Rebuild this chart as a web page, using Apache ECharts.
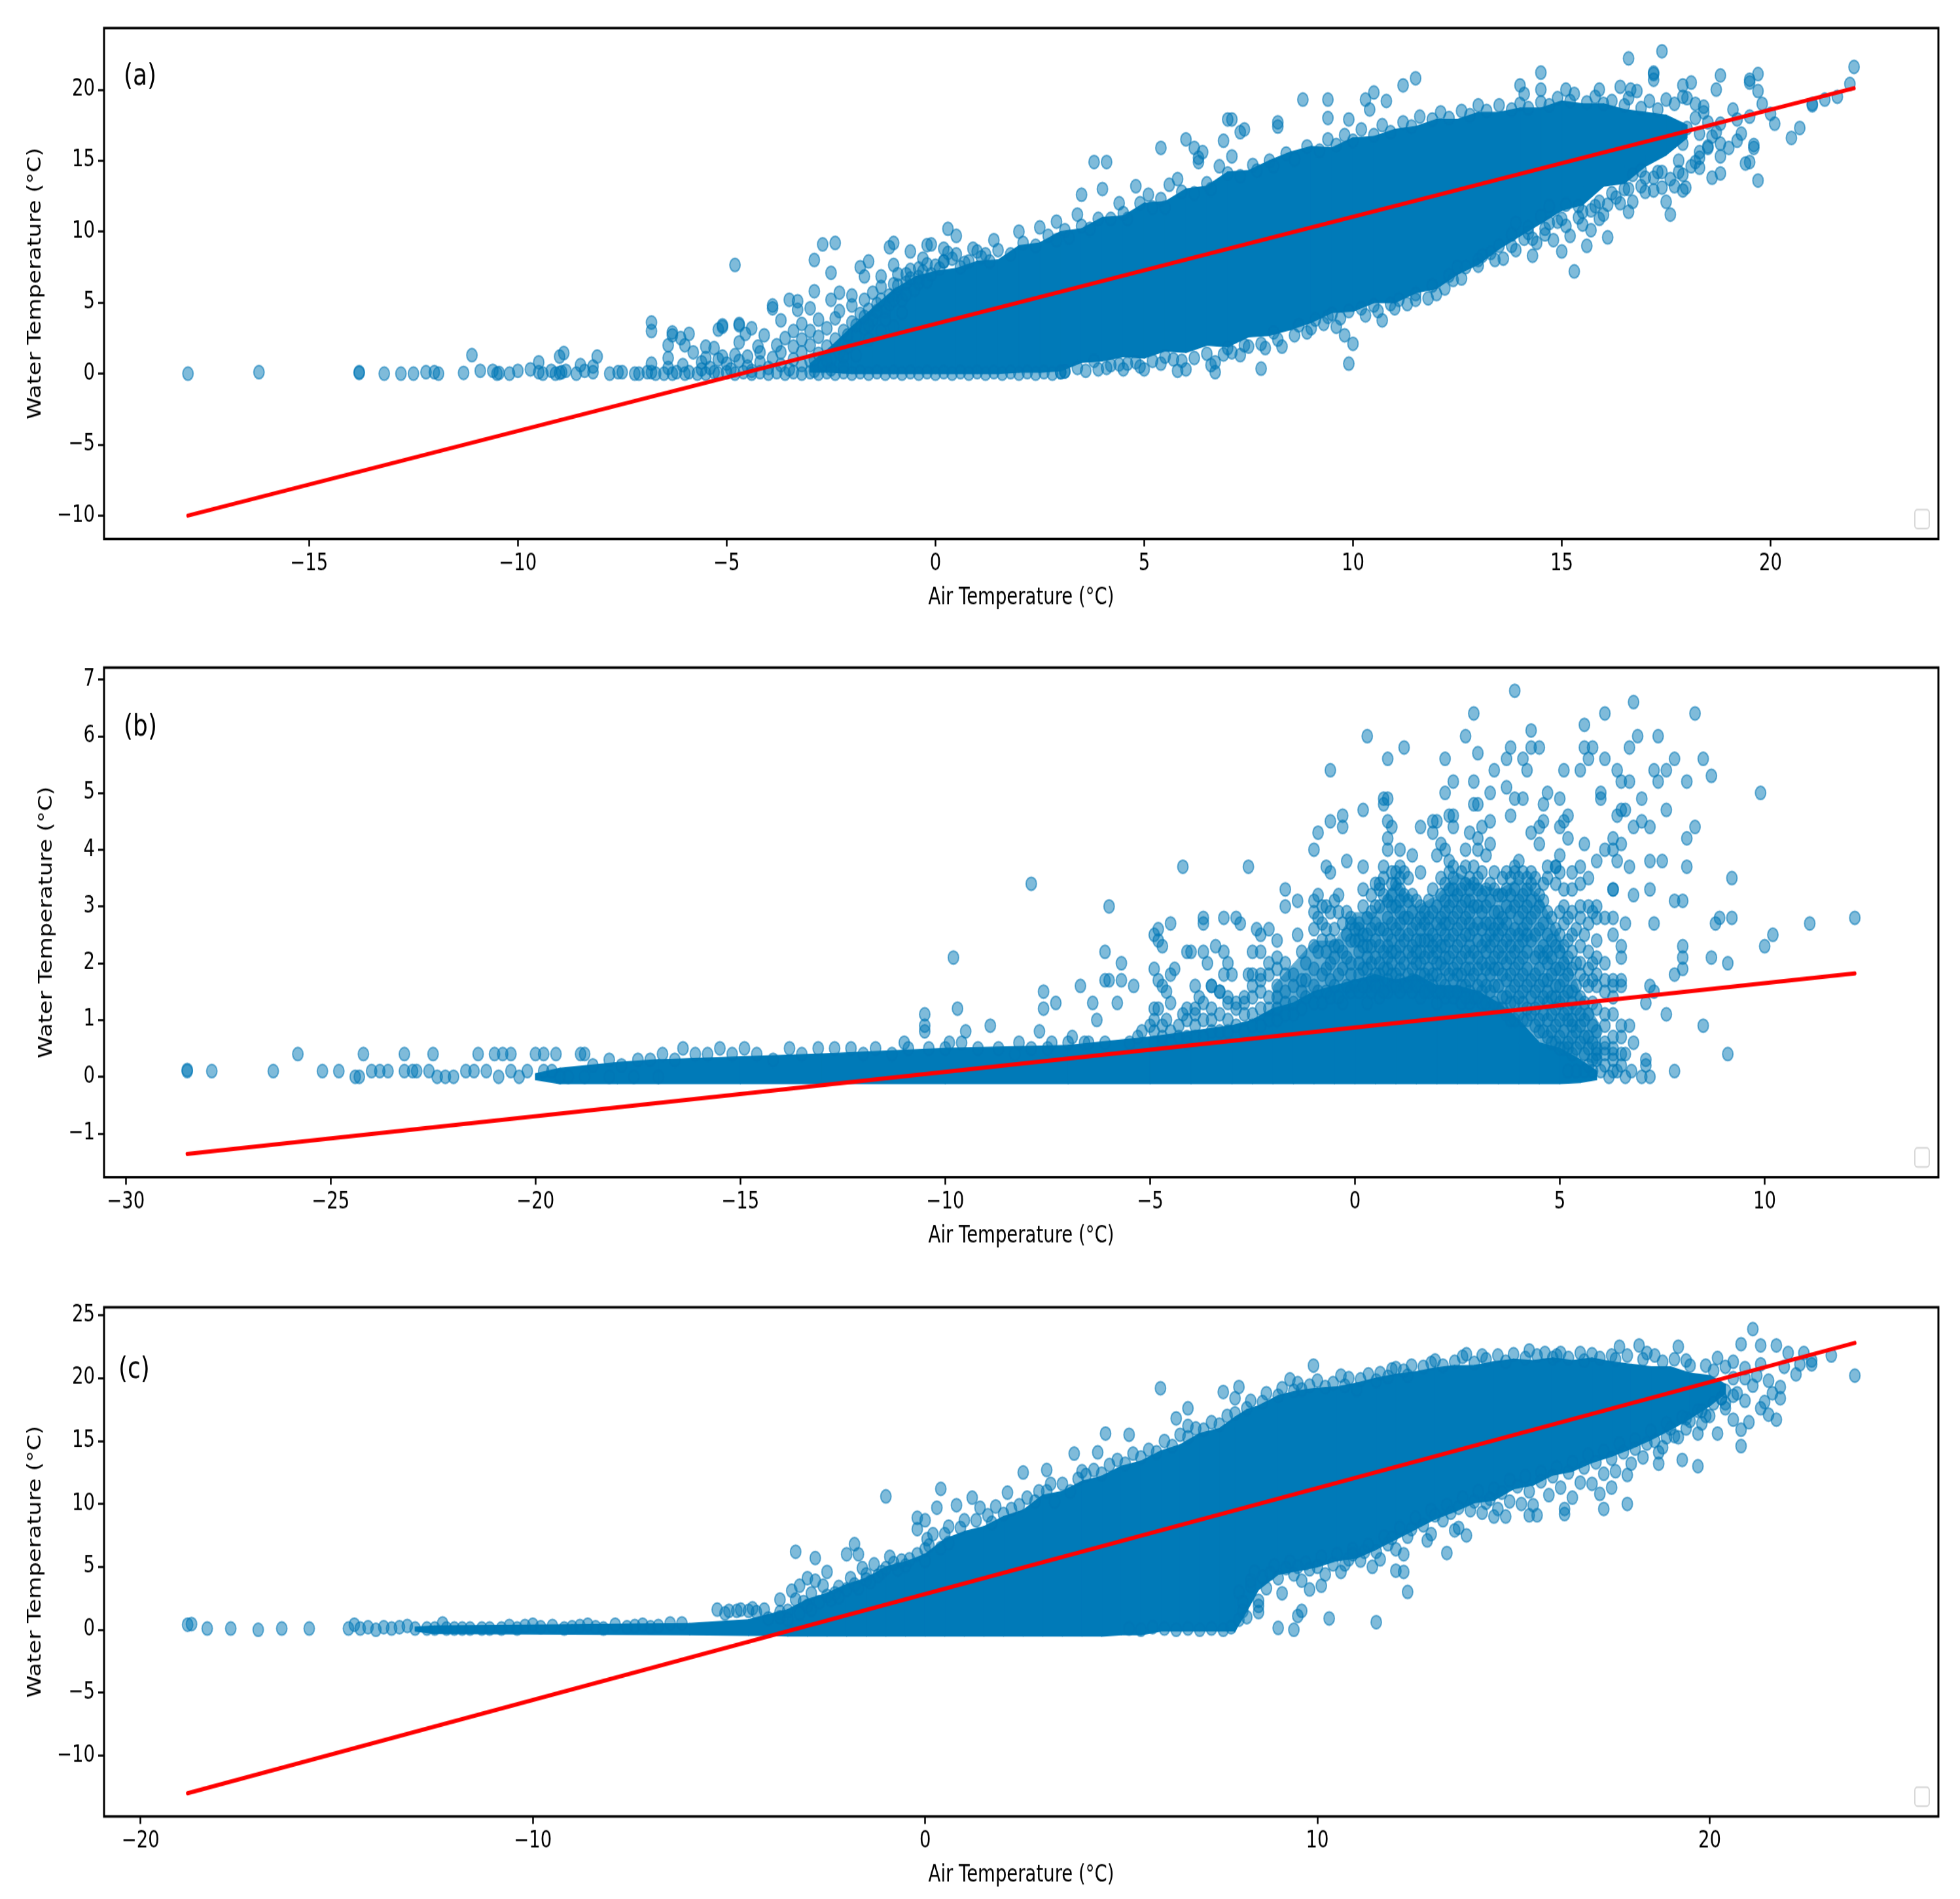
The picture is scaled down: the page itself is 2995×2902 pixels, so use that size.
<!DOCTYPE html>
<html><head><meta charset="utf-8">
<script src="https://cdn.jsdelivr.net/npm/echarts@6/dist/echarts.min.js"></script>
<style>html,body{margin:0;padding:0;background:#fff;width:2995px;height:2902px;overflow:hidden}
#c{width:2995px;height:2285px;transform:scale(1,1.27);transform-origin:0 0}</style>
</head><body><div id="c"></div>
<script>
// ---------- tick labels ----------
const xTicksA=[-15,-10,-5,0,5,10,15,20], yTicksA=[-10,-5,0,5,10,15,20];
const xTicksB=[-30,-25,-20,-15,-10,-5,0,5,10], yTicksB=[-1,0,1,2,3,4,5,6,7];
const xTicksC=[-20,-10,0,10,20], yTicksC=[-10,-5,0,5,10,15,20,25];
const xTitle='Air Temperature (°C)', yTitle='Water Temperature (°C)';
// ---------- regression lines ----------
const lineA=[[-17.9,-10],[22,20.1]], lineB=[[-28.5,-1.36],[12.2,1.82]], lineC=[[-18.8,-13],[23.7,22.8]];
// ---------- unresolved dense mass: [air, low water, high water] ----------
const massA=[[-3,.1,.7],[-2.5,.1,1.9],[-2,0,3.3],[-1.5,0,4.6],[-1,0,5.9],[-.5,0,6.8],[0,0,7.2],[.5,0,7.4],[1,0,7.9],[1.5,0,8],[2,.1,9],[2.5,.1,9.2],[3,.2,10],[3.5,.8,10.2],[4,.9,11],[4.5,1.2,11.1],[5,1.1,12],[5.5,1.6,12.1],[6,1.5,13],[6.5,2,13.2],[7,1.9,14.2],[7.5,2.6,14.3],[8,2.7,15],[8.5,3.1,15.6],[9,3.6,16],[9.5,4.3,15.9],[10,4.4,16.6],[10.5,5,16.7],[11,5,17.2],[11.5,5.7,17.4],[12,6,17.9],[12.5,7,17.9],[13,7.7,18.4],[13.5,8.8,18.4],[14,9.7,18.7],[14.5,10.6,18.7],[15,11.5,19.2],[15.5,11.9,19],[16,13.2,19],[16.5,13.4,18.6],[17,14.6,18.4],[17.5,15.4,18.2],[18,16.6,17.5]];
const massB=[[-20,-.05,.05],[-19.4,-.12,.15],[-18,-.12,.25],[-17,-.12,.3],[-15,-.12,.35],[-13,-.12,.4],[-10,-.12,.5],[-7,-.12,.55],[-5,-.12,.7],[-4,-.12,.8],[-3,-.12,.9],[-2.5,-.12,1],[-2,-.12,1.2],[-1.5,-.12,1.3],[-1,-.12,1.5],[-.5,-.12,1.6],[0,-.12,1.7],[.5,-.12,1.8],[1,-.12,1.7],[1.5,-.12,1.8],[2,-.12,1.6],[2.5,-.12,1.6],[3,-.12,1.5],[3.5,-.12,1.3],[4,-.12,1],[4.5,-.12,.6],[5,-.12,.5],[5.5,-.1,.3],[5.9,-.05,.1]];
const semiB=[[-2,1,1.6],[-1,1.4,2.4],[-.5,1.5,2.4],[0,1.6,2.9],[.5,1.7,2.9],[1,1.6,3.5],[1.5,1.7,3],[2,1.5,3.2],[2.5,1.5,3.6],[3,1.4,3.4],[3.5,1.2,3.3],[4,.9,3.5],[4.5,.6,3.2],[5,.4,2.5],[5.5,.3,1.5],[6,.2,.9]];
const massC=[[-13,-.1,.2],[-12.5,-.3,.3],[-9,-.35,.4],[-6,-.4,.5],[-4.5,-.45,.8],[-4,-.45,1.2],[-3.5,-.5,1.6],[-3,-.5,2.4],[-2.5,-.5,2.9],[-2,-.5,3.6],[-1.5,-.5,4.1],[-1,-.5,5],[-.5,-.5,5.4],[0,-.5,6],[.5,-.5,7.2],[1,-.5,7.8],[1.5,-.5,8.2],[2,-.5,9],[2.5,-.5,9.5],[3,-.5,10.7],[3.5,-.5,11],[4,-.5,11.8],[4.5,-.5,12.2],[5,-.4,13],[5.5,-.4,13.4],[6,-.1,14.2],[6.5,-.1,14.7],[7,-.1,15.6],[7.5,-.1,16],[7.9,-.1,16.9],[8.2,1.5,17.5],[8.5,3.2,17.8],[9,4.4,18.6],[9.5,4.7,19],[10,5,19.2],[10.5,5.5,19.3],[11,5.7,19.6],[11.5,6.4,20],[12,7.2,20.3],[12.5,8,20.5],[13,8.8,20.8],[13.5,9.4,21],[14,10.1,21],[14.5,10.3,21.3],[15,11.2,21.5],[15.5,11.5,21.4],[16,12.3,21.6],[16.5,12.6,21.4],[17,13.3,21.6],[17.5,13.8,21.3],[18,14.4,21.1],[18.5,15.1,20.9],[19,15.9,20.9],[19.5,16.8,20.4],[20,17.8,20.2],[20.4,18.8,19.5]];
// ---------- individually read points: panel (a) ----------
const pointsA=[[-17.9,0],[-16.2,.1],[-13.8,.05],[-13.8,.1],[-13.2,0],[-12.8,0],[-12.5,0],[-12.2,.1],[-12,.1],[-11.9,0],[-11.3,.05],[-10.9,.2],[-10.6,.2],[-10.5,0],[-10.45,.05],[-10.2,0],[-10,.2],[-9.7,.3],[-9.5,.1],[-9.5,.8],[-9.4,0],[-9.2,.2],[-9.1,0],[-9,.05],[-8.95,.1],[-8.85,.2],[-9,1.2],[-8.9,1.45],[-11.1,1.3],[-8.1,1.2],[-8.6,0],[-8.5,.6],[-8.4,.2],[-8.2,.1],[-8.2,.5],[-7.8,0],[-7.6,.1],[-7.5,.1],[-7.2,0],[-7.1,0],[-6.9,.1],[-6.8,.1],[-6.8,.7],[-6.7,0],[-6.5,0],[-6.4,.4],[-6.3,0],[-6.2,.1],[-6.05,.6],[-6,0],[-5.9,.1],[-5.7,0],[-5.6,.3],[-5.5,0],[-5.3,.1],[-5.2,0],[-5,.1],[-4.8,0],[-4.6,.1],[-4.4,0],[-4.2,.1],[-4,0],[-3.8,.1],[-3.6,0],[-3.4,.1],[-3.2,0],[-3,.1],[-2.8,0],[-2.6,.1],[-2.4,0],[-2.2,.1],[-2,0],[-1.8,.1],[-1.6,0],[-1.4,.1],[-1.2,0],[-1,.1],[-.8,0],[-.6,.1],[-.4,0],[-.2,.1],[0,0],[.2,.1],[.4,0],[.6,.1],[.8,0],[1,.1],[1.2,0],[1.4,.1],[1.6,0],[1.8,.1],[2,0],[2.2,.1],[2.4,0],[2.6,.1],[2.8,0],[3,.1],[3.1,.15],
[-6.8,3.6],[-6.8,3],[-6.3,2.9],[-6.3,2.7],[-6.1,2.5],[-5.9,2.8],[-6,2],[-6.4,2],[-6.4,1.1],[-5.8,1.5],[-5.5,1.9],[-5.3,1.8],[-4.8,7.65],[-5.2,3.1],[-5.1,3.4],[-5.1,3.3],[-4.7,3.5],[-4.7,3.4],[-4.7,2.2],[-4.4,3.2],[-4.55,2.8],[-4.25,1.9],[-4.1,2.7],[-3.9,4.6],[-3.9,4.8],[-3.5,5.2],[-3.3,5.1],[-3.3,4.5],[-3,4.6],[-3.7,3.75],[-2.9,8],[-2.7,9.1],[-2.4,9.2],[-2.5,7.1],[-2.9,5.8],[-2.5,5.2],[-2.3,5.7],[-2,5.5],[-1.8,7.5],[-1.6,7.9],[-1.7,6.85],[-1.3,6.85],[-1.1,8.9],[-1,9.2],[-1,7.65],[-.6,8.6],[-.3,8.1],[-.2,9.05],[-.1,9.1],[.2,8.8],[.3,8.5],[.3,10.2],[.5,9.7],[.9,8.8],[1,8.6],
[-5.6,.8],[-5.5,1.1],[-5.4,.4],[-5.2,1],[-5,.7],[-5.1,1.2],[-4.9,.3],[-4.8,1.3],[-4.7,.9],[-4.5,.5],[-4.5,1.2],[-4.4,.2],[-4.2,.8],[-4.2,1.5],[-4,.4],[-3.9,1.1],[-3.8,2],[-3.7,.6],[-3.7,1.5],[-3.6,2.5],[-3.5,.3],[-3.4,1],[-3.4,1.9],[-3.4,3],[-3.2,.6],[-3.2,1.5],[-3.2,2.4],[-3.2,3.5],[-3,.9],[-3,2],[-3,3],[-2.9,.2],[-2.8,1.4],[-2.8,2.6],[-2.8,3.8],[-2.7,.6],[-2.6,1.9],[-2.6,3.2],[-2.5,.3],[-2.5,1],[-2.4,2.4],[-2.4,3.9],[-2.3,1.5],[-2.3,4.4],[-2.2,.5],[-2.2,3],[-2.1,1.9],[-2,3.6],[-2,4.8],[-1.9,2.7],[-1.8,4.2],[-1.7,3.2],[-1.7,5.2],[-1.6,4.5],[-1.5,3.8],[-1.5,5.7],[-1.4,4.9],[-1.3,6.1],[-1.2,4.4],[-1.1,5.5],[-1,6.3],[-.9,5.6],[-.9,7],[-.7,6.4],[-.6,7.3],[-.4,7.4],[-.4,6.8],[-.2,7.7],[0,7.6],[.2,7.9],[.4,8.1],[.6,7.5],[.8,7.9],[1.2,8.4],
[-2.9,1],[-2.6,.9],[-2.2,1.2],[-2.1,2.7],[-1.9,1.3],[-1.9,3.4],[-1.7,4],[-1.6,2.4],[-1.6,3.4],[-1.4,4.4],[-1.3,3],[-1.3,5.2],[-1.2,3.8],[-1.1,4.9],[-1,5.2],[-1,3.3],[-.9,6.2],[-.8,4.3],[-.8,5.2],[-.7,5.6],[-.7,7],[-.6,6.7],[-.5,5.9],[-.4,6.4],[-.3,7.2],[-.2,6.5],[-.1,7],[.1,7.4],
[22,21.6],[21.9,20.4],[21.6,19.5],[21.3,19.3],[21,18.9],[21,19],[20.7,17.3],[20.5,16.6],[20.1,17.6],[20,18.3],[19.8,19],[19.7,21.1],[19.5,20.5],[19.5,20.7],[19.7,19.9],[19.5,18.1],[19.2,17.9],[19.1,18.6],[19.3,16.9],[19.2,16.4],[19,15.9],[18.8,21],[18.7,20],[18.8,17.6],[19.6,15.9],[19.6,16.1],[19.5,14.9],[19.4,14.8],[19.7,13.6],[18.8,16.2],[18.8,15.3],[18.8,14.1],[18.6,13.8],[18.5,15.9],[18.3,15.6],[18.3,14.5],[17.97,13.1],[17.9,12.9],[18.1,20.5],[17.9,20.3],[18.4,18.8],[18,19.4],[17.4,22.7],[17.2,21.1],[17.2,21.2],[17.2,20.7],[16.6,22.2],[16.4,20.2],[16.65,20],[16.8,19.9],[15.9,20],[15.1,20],[14.5,21.2],[14.5,20],[14,20.3],[14.1,19.7],[11.5,20.8],[11.2,20.3],[10.5,19.8],[10.3,19.3],[9.4,19.3],[8.8,19.3],[10.8,19.2],[10.4,18.6],[9.9,17.9],[9.4,18],[8.2,17.7],[8.2,17.4],[7.1,17.9],[7,17.9],[7.4,17.2],[7.3,17],[6.9,16.4],[6,16.5],[5.4,15.9],[6.2,15.9],[6.4,15.6],[4.1,14.9],[3.8,14.9],[4,13],[3.5,12.6],[4.8,13.2],[5.6,13.3],[5.8,13.7],[6.3,14.9],[6.3,15.2],[6.8,14.6],[7.1,15.3],[3.4,11.2],[2.9,10.7],[2.5,10.3],[2,10],[1.4,9.4],[4.4,12],[5.1,12.6],
[15.3,7.2],[15,8.6],[14.3,8.3],[13.6,8.1],[16.1,9.6],[15.6,9],[14.8,9.4],[14.1,9.5],[13.3,8.5],[13,8],[12.5,7.5],[12.4,6.6],[12,5.6],[11.5,5.2],[10.9,4.9],[10.7,3.75],[10,2.1],[9.9,.7],[9.8,2.7],[9.6,3.3],[9.4,4],[8.9,2.9],[7.9,1.8],[7.8,.35],[8.1,2.9],[7.4,2],[6.9,1.35],[6.7,.8],[6.7,.1],[6,.3],[5.8,.2],[5.7,1],[5.4,.7],[5,.3],[4.6,.7],[4.4,.65],[3.9,.3],[3.1,.15],[3,.1],
[16.6,11.4],[17.6,11.2],[17.5,12.1],[17.4,13.1],[17.2,13.8],[16.7,14],[16.3,12.4],[15.9,10.9],[15.7,10.1],[15.2,9.7],[15.1,11.9],[15.4,11.8],[14.7,11.8],[14.5,11.1],[14.6,10.2],[13.8,9.8],[16.1,11.9],[15.7,11.5],[16.5,13],[16.9,13.2],[15.9,12.1],[15.5,10.5],[14.9,10.7],[14.2,9.9],[13.9,10.6],[14.4,9.2],[17.8,14.2],[18.2,14.9],[17.3,14.2],[17.7,13.2],[17,12.8],
[.2,7.9],[.5,8.4],[.7,7.8],[1.1,8.2],[1.3,7.9],[1.5,8.7],[1.8,8.4],[2.1,9.2],[2.4,9],[2.7,9.7],[2.9,9.4],[3.1,10.1],[3.2,9.6],[3.5,10.4],[3.7,10.2],[3.9,10.9],[4.2,10.9],[4.5,11.3],[4.6,10.9],[4.9,12],[5.2,11.7],[5.4,12.3],[5.5,11.7],[5.9,12.8],[6.2,12.7],[6.5,13.4],[6.6,13],[7,14.1],[7.3,13.9],[7.6,14.7],[7.7,14.3],[8,15],[8.1,14.6],[8.4,15.5],[8.6,15.1],[8.9,16],[9.2,15.7],[9.4,16.5],[9.6,16.1],[9.8,16.8],[10,16.4],[10.2,17.2],[10.5,16.8],[10.7,17.5],[10.9,17],[11.2,17.7],[11.4,17.4],[11.6,18.1],[11.9,17.9],[12.1,18.4],[12.3,18],[12.6,18.5],[12.8,18.2],[13,18.9],[13.2,18.5],[13.5,18.9],[13.8,18.6],[14,19],[14.2,18.7],[14.5,19.1],[14.7,18.9],[14.9,19.4],[15.2,19.2],[15.3,19.7],[15.6,19.1],[15.8,19.5],[16,19],[16.2,19.2],[16.5,18.9],[16.6,19.4],[16.9,18.7],[17.1,19.2],[17.3,18.6],[17.5,19.3],[17.7,19],[17.9,19.5],[18.2,19],[18.4,18.4],
[3.4,.4],[3.6,.2],[3.8,.9],[4.1,.4],[4.2,.6],[4.5,.3],[4.8,.8],[4.9,.5],[5.2,.9],[5.5,1.2],[5.9,.9],[6.2,1.1],[6.5,1.4],[6.6,.6],[7,1.8],[7.1,1.5],[7.3,1.3],[7.5,1.9],[7.8,2.1],[8.2,2.4],[8.3,1.9],[8.6,2.7],[8.7,3.4],[9,3.2],[9.1,3.8],[9.3,3.5],[9.5,4.2],[9.7,3.9],[9.9,4.4],[10.2,4.6],[10.3,4.1],[10.5,4.8],[10.6,4.4],[11,4.6],[11.1,5.2],[11.3,4.9],[11.5,5.6],[11.8,5.3],[11.9,6.2],[12.2,6],[12.3,6.9],[12.6,6.7],[12.7,7.5],[13,7.6],[13.1,8.3],[13.4,8],[13.5,9],[13.8,9],[13.9,8.7],[14.2,10.3],[14.3,9.5],[14.6,9.8],[14.7,10.6],[15,10.9],[15.1,10.4],[15.4,11],[15.5,11.4],[15.8,11.8],[16,11.2],[16.2,12.7],[16.4,12],[16.6,13],[16.7,12.1],[16.9,14.3],[17,13.8],[17.2,12.9],[17.4,14.2],[17.6,13.7],[17.8,15],[17.9,14],[18.1,14.6],[18.3,15.2],[18.5,16],[18.6,16.7],[18.3,16.9],[18.5,17.7],[18.2,18],[18.7,17],[17.9,16.2],[18,17.3]];
// ---------- individually read points: panel (b) ----------
const pointsB=[[3.9,6.8],[6.8,6.6],[2.9,6.4],[6.1,6.4],[8.3,6.4],[5.6,6.2],[.3,6],[2.7,6],[4.3,6.1],[6.9,6],[7.4,6],[1.2,5.8],[3.8,5.8],[4.3,5.8],[4.5,5.8],[5.6,5.8],[5.8,5.8],[6.7,5.8],[.8,5.6],[2.2,5.6],[3,5.7],[3.7,5.6],[4.1,5.6],[5.7,5.6],[6.1,5.6],[7.8,5.6],[8.5,5.6],[-.6,5.4],[3.4,5.4],[4.2,5.4],[5.1,5.4],[5.5,5.4],[6.4,5.4],[7.3,5.4],[7.6,5.4],[8.7,5.3],[2.4,5.2],[2.9,5.2],[6.5,5.2],[6.7,5.2],[7.4,5.2],[8.1,5.2],[3.7,5.1],[2.2,5],[3.3,5],[4.7,5],[9.9,5],[6,5],[3.9,4.9],[4.1,4.9],[5,4.9],[7,4.9],[.7,4.9],[.8,4.9],[.7,4.8],[2.9,4.8],[3,4.8],[4.6,4.8],[6,4.9],[.2,4.7],[6.5,4.7],[6.6,4.7],[7.6,4.7],[-.3,4.6],[2.3,4.6],[2.4,4.6],[3.8,4.6],[5.2,4.6],[6.4,4.6],[-.6,4.5],[.8,4.5],[1.9,4.5],[2,4.5],[3.3,4.5],[4.6,4.5],[5.1,4.5],[7,4.5],[-.3,4.4],[.9,4.4],[1.6,4.4],[2.4,4.4],[3.1,4.4],[4.5,4.4],[5,4.4],[6.8,4.4],[7.2,4.4],[8.3,4.4],[-.9,4.3],[1.9,4.3],[2.8,4.3],[4.3,4.3],[8.1,4.2],[.8,4.2],[3,4.2],[5.2,4.2],[6.3,4.2],[4.5,4.1],[3.3,4.1],[2.1,4.1],[5.6,4.1],[6.5,4.1],[-1,4],[.8,4],[1.1,4],[2.2,4],[2.7,4],[3,4],[6.1,4],[6.3,4],[1.4,3.9],[2,3.9],[3.2,3.9],[5,3.9],[-.2,3.8],[4,3.8],[2.3,3.8],[5.9,3.8],[6.4,3.8],[7.2,3.8],[7.5,3.8],[-4.2,3.7],[-2.6,3.7],[.2,3.7],[.7,3.7],[-.7,3.7],[6.7,3.7],[8.1,3.7],[4.9,3.7],[-.6,3.6],[1.6,3.6],[9.2,3.5],[-7.9,3.4],[-1.7,3.3],[.5,3.4],[.2,3.3],[7.2,3.3],[6.3,3.3],[-.4,3.2],[-6,3],[6.8,3.2],[7.8,3.1],[8,3.1],[-1.7,3],[-1.4,3.1],[8.9,2.8],[9.2,2.8],[12.2,2.8],[11.1,2.7],[8.8,2.7],[7.3,2.7],[6.6,2.7],[10.2,2.5],[10,2.3],[8,2.3],[8,2.1],[8.7,2.1],[9.1,2],[8,1.9],[7.8,1.8],[7.3,1.5],[7.2,1.6],[7.1,1.3],[7.6,1.1],[8.5,.9],[9.1,.4],[7.8,.1],[7.2,0],[6.8,.6],[6.7,.9],[6.6,.4],[7.1,.3],[7.1,.2],[7,0],[6.6,0],[6.75,.1],[6.4,.1],[6.2,0],[6,.1],[5.8,.1],[5.6,.1],[5.4,.1],[5.2,.1],[6.3,.4],[6.1,.5],[5.9,.4],[5.7,.2],
[-4.5,2.7],[-3.7,2.8],[-3.7,2.7],[-3.2,2.8],[-2.9,2.8],[-2.8,2.7],[-4.8,2.6],[-4.9,2.5],[-4.8,2.4],[-4.7,2.3],[-2.4,2.6],[-2.1,2.6],[-2.3,2.5],[-1.9,2.4],[-1.4,2.5],[-6.1,2.2],[-4.1,2.2],[-4,2.2],[-3.7,2.2],[-3.4,2.3],[-2.5,2.2],[-2.3,2.2],[-1.3,2.2],[-9.8,2.1],[-3.2,2.2],[-3.6,2],[-5.7,2],[-4.9,1.9],[-4.4,1.9],[-3.1,2],[-2.1,2],[-1.9,2.1],[-1.7,2],[-3.2,1.8],[-3,1.8],[-4.5,1.8],[-2.6,1.8],[-6.1,1.7],[-6,1.7],[-5.7,1.7],[-4.8,1.7],[-6.7,1.6],[-5.4,1.6],[-4.7,1.6],[-3.9,1.6],[-3.5,1.6],[-7.6,1.5],[-4.6,1.5],[-3.3,1.5],[-7.3,1.3],[-6.4,1.3],[-5.8,1.3],[-3.8,1.4],[-7.6,1.2],[-9.7,1.2],[-4.9,1.2],[-4.8,1.2],[-10.5,1.1],[-6.3,1],[-4.2,1.1],[-3.9,1.1],[-4.6,1],[-8.9,.9],[-9.5,.8],[-10.5,.8],[-7.7,.8],[-5.2,.8],[-6.9,.7],[-5,.9],[-10.5,.9],[-11,.6],[-9.9,.6],[-8.2,.6],[-7.4,.6],[-6.6,.6],[-6.1,.6],[-5.5,.6],[-5.3,.7],
[-28.5,.1],[-28.5,.12],[-27.9,.1],[-26.4,.1],[-25.8,.4],[-25.2,.1],[-24.8,.1],[-24.4,0],[-24.2,.4],[-24.3,0],[-24,.1],[-23.8,.1],[-23.6,.1],[-23.2,.4],[-23.2,.1],[-23,.1],[-22.9,.1],[-22.5,.4],[-22.6,.1],[-22.4,0],[-22.2,0],[-22,0],[-21.7,.1],[-21.5,.1],[-21.4,.4],[-21.2,.1],[-21,.4],[-20.9,0],[-20.8,.4],[-20.6,.4],[-20.6,.1],[-20.4,0],[-20.2,.1],[-20,.4],[-19.8,.4],[-19.8,.1],[-19.6,.1],[-19.5,.4],[-19.2,0],[-18.9,.4],[-18.8,.4],[-18.6,.2],[-18.2,.3],[-17.9,.2],[-17.5,.3],[-17.2,.3],[-16.9,.4],[-16.6,.3],[-16.4,.5],[-16.1,.4],[-15.8,.4],[-15.5,.5],[-15.2,.4],[-14.9,.5],[-14.6,.4],[-14.2,.3],[-13.8,.5],[-13.5,.4],[-13.1,.5],[-12.7,.5],[-12.3,.5],[-12,.4],[-11.7,.5],[-11.3,.4],[-10.9,.5],[-10.4,.5],[-10,.5],[-9.6,.6],[-9.2,.5],[-8.7,.5],[-8.3,.4],[-7.9,.5],[-7.5,.5],[-7,.6],[-6.5,.6],
[-19.4,0],[-18.8,0],[-18.2,0],[-17.6,0],[-17,0]];
// dense columns in panel (b): [air, water, water, ...]
const columnsB=[[-4.9,.6,.8,1],[-4.7,.6,.7,.9],[-4.5,.6,.8,1.3],[-4.3,.7,.9],[-4.1,.6,.7,1,1.2],[-3.9,.7,.9,1.2],[-3.7,.7,1,1.3],[-3.5,.8,1,1.2,1.6],[-3.3,.8,1.1,1.5],[-3.1,.8,1,1.3,1.4],[-2.9,.9,1.2,1.3],[-2.7,.8,1.1,1.4,1.3],[-2.5,.9,1.1,1.4,1.6,1.8],[-2.3,.9,1.2,1.5,1.7,1.8],[-2.1,1,1.2,1.4,1.8],[-1.9,1,1.2,1.4,1.6,1.9],[-1.7,1.1,1.3,1.5,1.8],[-1.5,1.1,1.3,1.6,1.8],[-1.3,1.2,1.5,1.7],[-1.2,1.4,1.7,2],[-1,1.3,1.6,1.9,2.3,2.6,2.9,3.1],[-.9,1.5,2.2,2.8,3.2],[-.8,1.3,1.8,2.4,2.7,3],[-.6,1.4,1.7,2,2.4,2.9],[-.5,1.6,2.1,2.3,2.6,3.1],[-.3,1.3,1.9,2.2,2.7],[-.1,1.5,1.8,2,2.4,2.8,2.7],[0,1.6,2.4,2.6],[.1,1.5,1.8,2,2.2,2.4,2.6,2.7],[.3,1.3,1.6,1.9,2.1,2.3,2.5,2.8],[.4,1.5,1.7,2,2.3,2.6,2.9,3.2],[.6,1.4,1.6,1.8,2,2.3,2.6,3,3.3,3.4],[.8,1.5,1.7,1.9,2.1,2.3,2.5,2.8,3.1],[.9,1.6,1.8,2,2.2,2.4,2.7,3,3.2,3.4,3.6],[1.1,1.5,1.7,1.9,2.1,2.3,2.5,2.7,2.9,3.1,3.3,3.5,3.7],[1.2,1.6,2,2.4,2.8,3.2,3.6],[1.4,1.5,1.7,1.9,2.1,2.3,2.6,2.9,3.2],[1.6,1.4,1.6,1.8,2,2.2,2.4,2.6,2.8,3],[1.8,1.5,1.7,1.9,2.2,2.4,2.6,2.8,3.1],[2,1.3,1.5,1.8,2,2.2,2.4,2.7,3],[2.2,1.4,1.6,1.9,2.1,2.3,2.5,2.7,2.9,3.1,3.4],[2.4,1.4,1.7,1.9,2.2,2.5,2.8,3.1,3.3,3.5,3.7],[2.6,1.3,1.6,1.8,2.1,2.4,2.7,3,3.3,3.6],[2.8,1.3,1.5,1.7,1.9,2.1,2.3,2.5,2.7,2.9,3.1,3.3,3.5],[2.9,1.4,1.8,2.2,2.6,3,3.4,3.7],[3.1,1.3,1.5,1.7,2,2.3,2.6,2.9,3.2,3.6],[3.3,1.2,1.5,1.8,2,2.3,2.5,2.7,3.1,3.4],[3.5,1.2,1.6,1.9,2.2,2.5,2.7,2.9,3.2],[3.7,1.1,1.4,1.7,2,2.4,2.7,3,3.3,3.6],[3.9,1,1.3,1.6,1.9,2.2,2.6,3,3.3,3.6,3.7],[4.1,1,1.3,1.5,1.8,2.1,2.4,2.6,2.9,3.2,3.6],[4.3,1.1,1.4,1.7,2.4,2.8,3.1,3.4,3.6],[4.5,.8,1,1.3,1.6,1.9,2.2,2.6,3,3.2],[4.7,.7,1,1.3,1.5,1.7,2,2.2,2.5,2.9,3.5,3.7],[4.9,.6,.9,1.2,1.4,1.6,1.9,2.3,2.6,3.4,3.7],[5.1,.5,.8,1.1,1.4,1.7,2,2.3,2.7,3,3.3],[5.3,.4,.7,.9,1,1.3,1.5,1.9,2.2,2.5,2.9,3.3,3.6],[5.5,.6,.9,1.1,1.4,1.8,2,2.3,2.8,3,3.4,3.7],[5.7,.5,.7,1.1,1.6,1.9,2.2,2.7,3,3.5],[5.9,.3,.5,.8,1.2,1.6,1.8,2.1,2.4,2.8,3],[6.1,.2,.4,.6,.9,1.1,1.5,1.7,2,2.8],[6.3,.1,.3,.5,.7,1.1,1.4,1.6,1.7,2.5,2.8,3.3],[6.5,.2,.4,.7,.9,1.6,1.7,2.1,2.3],
[-.7,1.5,1.9,2.2,2.6,3],[-.4,1.4,1.8,2.3,2.9],[-.2,1.6,2.1,2.5,2.9],[.2,1.6,1.9,2.3,2.5,3],[.5,1.6,1.8,2.1,2.4,2.7,3],[.7,1.5,1.9,2.2,2.6,3.2,3.5],[1,1.6,1.8,2.2,2.6,3,3.4,3.6],[1.3,1.6,1.8,2.2,2.5,2.8,3.1,3.5],[1.5,1.6,2,2.4,2.7,3.1,2.2],[1.7,1.5,1.8,2.1,2.4,2.7,2.9],[1.9,1.6,1.8,2.1,2.3,2.5,2.9,3.3],[2.1,1.5,1.7,2,2.3,2.6,2.8,3.2,3.5],[2.3,1.5,1.8,2.1,2.4,2.7,3,3.3,3.6],[2.5,1.5,1.8,2,2.3,2.6,2.9,3.2],[2.7,1.4,1.6,1.9,2.2,2.5,2.8,3.1,3.4,3.7],[3,1.4,1.6,1.9,2.1,2.4,2.7,3,3.3,3.5],[3.2,1.3,1.6,1.9,2.2,2.4,2.7,3,3.3],[3.4,1.3,1.6,1.9,2.1,2.4,2.6,2.9,3.3,3.6],[3.6,1.2,1.4,1.8,2.1,2.3,2.6,2.8,3.2,3.5],[3.8,1,1.3,1.5,1.8,2.1,2.3,2.5,2.9,3.2,3.5],[4,1.1,1.4,1.7,2,2.3,2.5,2.8,3.1,3.5],[4.2,1,1.2,1.6,1.9,2.2,2.5,2.7,3,3.3,3.5],[4.4,.9,1.2,1.5,1.8,2.1,2.5,2.9,3.3,3.5],[4.6,.8,1.1,1.4,1.7,2.1,2.3,2.7,3.1,3.4],[4.8,.6,.8,1.1,1.4,1.8,2.1,2.4,2.8],[5,.5,.7,1,1.3,1.6,1.9,2.2,2.5,2.9,3.6],[5.2,.5,.6,1,1.2,1.5,1.8,2.1,2.4,2.8],[5.4,.5,.8,1.2,1.6,2,2.6],[5.6,.4,.7,1,1.3,1.7,2.5],[5.8,.3,.6,.9,1.3,1.7,2,2.9]];
// ---------- individually read points: panel (c) ----------
const pointsC=[[21.1,23.9],[17.7,22.5],[18.2,22.6],[19.2,22.5],[20.8,22.7],[21.3,22.6],[21.7,22.6],[22,22],[22.4,22],[23.1,21.8],[23.7,20.2],[22.6,21.1],[22.6,21.4],[22.2,20.3],[21.8,19.3],[21.8,18.4],[21.7,16.7],[21.5,17.1],[21.3,17.6],[21.6,18.8],[21,16.5],[20.6,16.7],[20.8,15.9],[20.8,14.6],[20.2,15.6],[19.7,15.6],[19.7,13],[19.3,13.5],[18.7,13.2],[18.7,14.1],[19.2,15.3],[18.9,15.3],[17.9,10],[17.3,9.6],[17.2,10.8],[17.5,11.3],[16.3,9.2],[16.3,9.6],[15.6,9.1],[15.4,9.1],[14.8,9],[14.5,9],[14.3,10.1],[13.8,7.5],[13.6,8.1],[12.9,7.6],[13.3,6.1],[12.3,3],[12.2,4.6],[12,4.7],[12.2,6],[11.8,6.8],[11.5,.6],[10.3,.9],[9.4,0],[9,.15],[9.6,1.5],[9.5,1.1],[9.1,2.9],[9.6,3.9],[9.8,3.2],[10.1,3.5],[11.4,5],[10.7,5.2],[8.5,2.3],[8.5,1.4],[8.5,1.9],
[6,19.2],[7.6,18.9],[8,19.3],[7.9,18.4],[9.3,19.9],[9.9,21],[10.6,20.2],[9.6,19.1],[6.7,17.6],[6.4,16.8],[6.7,16.2],[4.6,15.6],[5.2,15.5],[3.8,14],[4.4,14.1],[2.5,12.5],[3.1,12.7],[4,12.6],[.4,11.2],[-1,10.6],[1.2,10.5],[2.1,10.9],[3.2,11.6],[2.9,11],[.3,9.7],[-.2,8.9],[0,8.7],[-.2,8],[.05,7.2],[.8,9.9],[1.4,9.7],[1.8,9.8],[-3.3,6.2],[-2.8,5.7],[-2,6],[-1.8,6.8],[-1.7,6],[-2.5,4.6],[-3,4.1],[-3.2,3.5],[-2.8,3.9],[-2.6,3.5],[-3.7,2.4],[-3.4,3.1],[-2.2,3.4],[-1.9,4.1],[-1.6,4.9],[-1.3,5.2],[-.9,5.8],[-.5,5.1],[0,5.5],
[13.8,21.9],[14.2,21.8],[15.4,22.2],[16,21.6],[16.2,22],[12.9,21.2],[11.9,20.7],[11.5,19.8],[12.3,20.2],[11,19.1],[17.5,21.8],[18.4,22],[16.8,21.4],[19.4,21.4],[20.2,21.6],[20.6,21.3],[20.9,20.8],[21.3,21.1],[21.1,19.4],[20.7,18.8],[20.3,18.4],[20.9,18.2],[21.4,18.1],[20.4,17.6],[19.9,17],[19.4,16.8],[19.8,16.4],
[-18.8,.4],[-18.7,.45],[-18.3,.1],[-17.7,.1],[-17,0],[-16.4,.1],[-15.7,.1],[-14.7,.1],[-14.55,.4],[-14.4,.1],[-14.2,.2],[-14,0],[-13.8,.2],[-13.6,.1],[-13.4,.2],[-13.2,.3],[-13,.1],[-12.7,.1],[-12.5,.1],[-12.3,.5],[-12.2,.1],[-12,.1],[-11.8,.1],[-11.6,.1],[-11.3,.1],[-11.1,.1],[-10.8,.1],[-10.6,.3],[-10.4,.1],[-10.2,.3],[-10,.4],[-9.8,.2],[-9.5,.3],[-9.2,.1],[-9,.2],[-8.8,.3],[-8.6,.4],[-8.4,.2],[-8.2,.1],[-7.9,.4],[-7.6,.2],[-7.4,.3],[-7.2,.4],[-7,.2],[-6.8,.3],[-6.5,.5],[-6.2,.5],
[-5.3,1.6],[-5.1,1.3],[-5,1.5],[-4.8,1.5],[-4.7,1.6],[-4.5,1.5],[-4.4,1.7],[-4.3,1.4],[-4.1,1.6],[-3.7,1.4],[-3.5,1.5],[-3.3,2.4],[-3.1,2.2],[-2.9,2.9],[-2.5,2.7],[-2.3,2.9],[-1.5,4],[-1.1,4.6],[-.7,4.8],
[-4,.9],[-3.7,1],[-3.5,.8],[-3.2,1.3],[-3,1.9],[-2.9,1.6],[-2.7,2.2],[-2.4,2.4],[-2.2,2.6],[-2,3.2],[-1.8,3.6],[-1.7,3.3],[-1.5,4.4],[-1.4,3.8],[-1.2,4.3],[-1,4.9],[-.8,5.3],[-.6,5.5],[-.4,5.6],[-.2,6],[0,6.4],[.2,7.6],[.4,6.5],[.6,6.9],
[.1,6.7],[.5,7.6],[.6,8.2],[.9,8.1],[1,8.7],[1.3,8.7],[1.6,9.1],[1.7,8.5],[2,9.2],[2.2,9.6],[2.4,9.9],[2.6,10.5],[2.8,10.2],[3.1,11],[3.3,10.2],[3.5,11.6],[3.7,11],[3.9,12],[4.1,12.3],[4.3,12.7],[4.5,12.4],[4.7,13.1],[4.9,13.5],[5.1,13.2],[5.3,14],[5.5,13.7],[5.7,14.3],[5.9,14.1],[6.1,15],[6.3,14.6],[6.5,15.5],[6.7,15.3],[6.9,16],[7.1,15.9],[7.3,16.5],[7.5,16.3],[7.7,17],[7.9,17.2],[8.2,17.6],[8.3,18.2],[8.6,18.1],[8.7,18.8],[9,18.6],[9.1,19.2],[9.4,19],[9.5,19.6],[9.8,19.4],[10,19.8],[10.2,19.3],[10.4,19.6],[10.7,19.4],[10.8,20],[11.1,19.9],[11.3,20.3],[11.6,20.4],[11.8,20.1],[12,20.8],[12.2,20.6],[12.4,21],[12.7,20.9],[13,21.4],[13.2,21],[13.5,21.3],[13.7,21.7],[14,21.2],[14.3,21.5],[14.6,21.8],[14.8,21.3],[15,21.9],[15.3,21.6],[15.6,21.8],[15.8,22],[16.1,21.8],[16.4,21.6],[16.7,22],[17,21.9],[17.2,21.6],[17.6,21.5],[17.9,21.8],[18.3,21.5],[18.6,21.8],[18.8,21.3],[19.1,21.5],[19.5,21],[19.9,21],[20.1,20.6],[20.4,20.9],[20.6,20],
[5.2,.1],[5.5,0],[5.8,.2],[6.1,.1],[6.4,0],[6.7,.1],[7,0],[7.3,.1],[7.6,0],[7.8,.2],[8,.8],[8.1,1.5],[8.1,2.2],[8,3],[8.3,3.5],[8.6,4.2],[8.9,5.1],[9.3,5.4],[9.7,5.3],[10.1,5.8],[10.5,6],[10.9,6.4],[11.3,6.7],[11.7,7.4],[12.1,8.1],[12.5,8.9],[12.9,9.5],[13.3,9.9],[13.7,10.5],[14.1,11],[14.5,11.2],[14.9,11.9],[15.3,12.2],[15.7,12.5],[16.1,12.9],[16.5,13.3],[16.9,13.9],[17.3,14.2],[17.7,14.8],[18.1,15.1],[18.5,15.8],[18.9,16.4],[19.3,16.9],[19.7,17.4],[20.1,18],
[8.2,1],[8.3,3.9],[8.7,3.3],[8.4,4.6],[8.8,4.5],[9,4.1],[9.2,4.9],[9.4,4.4],[9.5,5],[9.8,4.8],[10,5],[10.2,4.4],[10.4,5.2],[10.6,4.6],[10.8,5.6],[10.9,6],[11.1,5.5],[11.2,6.2],[11.5,6.2],[11.6,5.6],[11.9,7.3],[12,6.4],[12.3,7.4],[12.4,8],[12.7,8.3],[12.8,7.1],[13,9.1],[13.2,8.7],[13.4,9.3],[13.5,7.9],[13.6,9.7],[13.9,9.5],[14,10.2],[14.2,9.3],[14.4,10.4],[14.6,9.6],[14.7,10.9],[14.9,10.2],[15.1,11.4],[15.2,10],[15.4,11],[15.5,9.9],[15.7,11.8],[15.9,10.7],[16,12.2],[16.2,11.3],[16.4,12.5],[16.5,10.5],[16.7,11.7],[16.8,12.9],[17,11.6],[17.1,13.3],[17.3,12.4],[17.5,13.6],[17.6,12.6],[17.8,14.1],[17.9,12.3],[18,13.2],[18.1,14.4],[18.3,13.7],[18.4,14.8],[18.6,15],[18.8,14.5],[19,16],[19.1,15.4],[19.4,16],[19.5,16.6],[19.8,17.4],[20,17],[20.3,18.4],[20.4,19],[20.6,18.6],[20.4,18],[21.2,20.2],[21.5,19.8],[21.9,20.9],[22.3,21.1],[20.9,20]];
// ---------- axis ranges ----------
const xRangeA=[-19.91,24.02], yRangeA=[-11.64,24.33];
const xRangeB=[-30.53,14.24], yRangeB=[-1.77,7.21];
const xRangeC=[-20.93,25.83], yRangeC=[-14.84,25.64];

const expandColumns=cols=>cols.flatMap(c=>c.slice(1).map(y=>[c[0],y]));
const DENSE='#007ab8';
const fmt=v=>String(v).replace('-','\u2212');
const chart=echarts.init(document.getElementById('c'),null,{renderer:'canvas'});
const S=1.27;
const panels=[
 {top:43,bottom:823.5,x:xRangeA,y:yRangeA,xt:xTicksA,yt:yTicksA,mass:massA,semi:[],pts:pointsA,line:lineA,label:'(a)',lx:189,ly:115,gap:90},
 {top:1020,bottom:1799,x:xRangeB,y:yRangeB,xt:xTicksB,yt:yTicksB,mass:massB,semi:semiB,pts:pointsB.concat(expandColumns(columnsB)),line:lineB,label:'(b)',lx:189,ly:1110,gap:73},
 {top:1997.6,bottom:2775.8,x:xRangeC,y:yRangeC,xt:xTicksC,yt:yTicksC,mass:massC,semi:[],pts:pointsC,line:lineC,label:'(c)',lx:181,ly:2091,gap:90}
];
const font='"DejaVu Sans"', FS=27.5;
const bandSeries=(i,m,style,z)=>({type:'custom',xAxisIndex:i,yAxisIndex:i,silent:true,z:z,data:m,encode:{x:0,y:[1,2]},
  renderItem:(params,api)=>{
   const k=params.dataIndex; if(k>=m.length-1) return null;
   const a=m[k],b=m[k+1];
   return {type:'polygon',shape:{points:[api.coord([a[0],a[1]]),api.coord([a[0],a[2]]),api.coord([b[0],b[2]]),api.coord([b[0],b[1]])]},style:style};
  }});
const option={animation:false,backgroundColor:'#fff',grid:[],xAxis:[],yAxis:[],series:[],graphic:[]};
panels.forEach((p,i)=>{
 option.grid.push({left:159,width:2803,top:p.top/S,height:(p.bottom-p.top)/S,show:true,borderColor:'#000',borderWidth:3,backgroundColor:'transparent',containLabel:false});
 option.xAxis.push({gridIndex:i,type:'value',min:p.x[0],max:p.x[1],splitLine:{show:false},axisLine:{show:false,onZero:false},
  axisTick:{show:true,length:9,inside:false,lineStyle:{color:'#000',width:2.5},customValues:p.xt},
  axisLabel:{show:true,customValues:p.xt,formatter:fmt,color:'#000',fontFamily:font,fontSize:FS,margin:16,hideOverlap:false},
  name:xTitle,nameLocation:'middle',nameGap:57,nameTextStyle:{color:'#000',fontFamily:font,fontSize:FS}});
 option.yAxis.push({gridIndex:i,type:'value',min:p.y[0],max:p.y[1],splitLine:{show:false},axisLine:{show:false,onZero:false},
  axisTick:{show:true,length:9,lineStyle:{color:'#000',width:2.5},customValues:p.yt},
  axisLabel:{show:true,customValues:p.yt,formatter:fmt,color:'#000',fontFamily:font,fontSize:FS,margin:14,hideOverlap:false,padding:[4,0,0,0]},
  name:yTitle,nameLocation:'middle',nameGap:p.gap,nameRotate:90,nameTextStyle:{color:'#000',fontFamily:font,fontSize:FS}});
 option.series.push(bandSeries(i,p.semi,{fill:'rgba(0,122,184,0.6)'},1));
 option.series.push(bandSeries(i,p.mass,{fill:DENSE,stroke:DENSE,lineWidth:1.5},1));
 option.series.push({type:'scatter',xAxisIndex:i,yAxisIndex:i,silent:true,z:2,large:false,data:p.pts,symbol:'circle',symbolSize:16,
  itemStyle:{color:'rgba(0,119,182,0.5)',borderColor:'rgba(0,119,182,0.55)',borderWidth:2,opacity:1}});
 option.series.push({type:'line',xAxisIndex:i,yAxisIndex:i,silent:true,z:3,data:p.line,showSymbol:false,symbol:'none',lineStyle:{color:'#ff0000',width:5,cap:'round'}});
 option.graphic.push({type:'text',left:p.lx,top:p.ly/S-16,z:10,silent:true,style:{text:p.label,fontFamily:font,fontSize:36,fill:'#000'}});
 option.graphic.push({type:'rect',left:2925,top:(p.bottom-46)/S,z:10,silent:true,shape:{width:22,height:29/S,r:4},style:{fill:'#fff',stroke:'#d8d8d8',lineWidth:2}});
});
chart.setOption(option);
</script></body></html>
